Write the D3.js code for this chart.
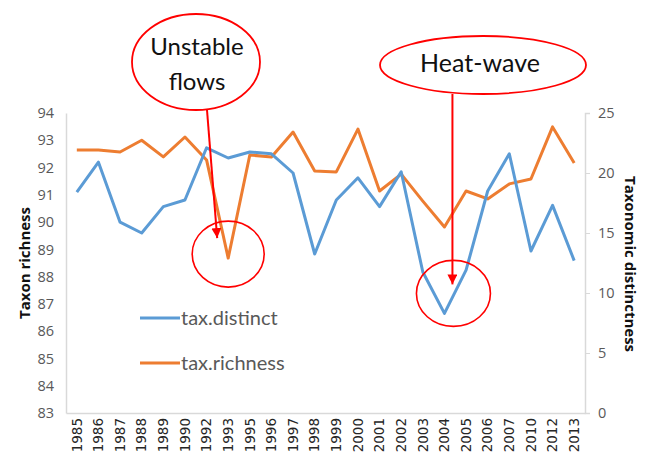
<!DOCTYPE html>
<html><head><meta charset="utf-8">
<script src="https://cdn.jsdelivr.net/npm/d3@7"></script>
<style>body{margin:0;background:#fff}svg{display:block}</style>
</head><body>
<svg id="c" width="649" height="455"></svg>
<script>
const years = ["1985","1986","1987","1988","1989","1990","1992","1993","1995","1996","1997","1998","1999","2000","2001","2002","2003","2004","2005","2006","2007","2010","2012","2013"];
// tax.distinct (right axis: Taxonomic distinctness)
const taxDistinct = [18.4,20.9,15.9,15.0,17.2,17.75,22.1,21.25,21.75,21.6,20.0,13.25,17.75,19.6,17.2,20.1,11.75,8.3,11.9,18.5,21.6,13.5,17.3,12.7];
// tax.richness (left axis: Taxon richness)
const taxRichness = [92.64,92.64,92.57,93.0,92.39,93.12,92.28,88.68,92.46,92.39,93.3,91.87,91.84,93.41,91.14,91.76,90.77,89.82,91.14,90.85,91.4,91.58,93.49,92.17];
const leftTicks = [83,84,85,86,87,88,89,90,91,92,93,94];
const rightTicks = [0,5,10,15,20,25];
const seriesNames = ["tax.distinct","tax.richness"];
const annotations = [{text:["Unstable","flows"], year:"1993"},{text:["Heat-wave"], year:"2004"}];

const svg = d3.select("#c");
const L=66, R=585, T=113, B=413;
const x = d3.scaleBand().domain(years).range([L,R]).padding(0);
const cx = d => x(d)+x.bandwidth()/2;
const yL = d3.scaleLinear().domain([83,94]).range([B,T]);
const yR = d3.scaleLinear().domain([0,25]).range([B,T]);
const grey="#d9d9d9", txt="#595959";

// left axis
const gl = svg.append("g").attr("transform",`translate(${L},0)`)
  .call(d3.axisLeft(yL).tickValues(leftTicks).tickSize(0).tickPadding(12));
gl.select(".domain").attr("stroke",grey).attr("stroke-width",1.5);
gl.selectAll("text").attr("fill",txt).style("font-family","'Open Sans',sans-serif").style("font-size","14.5px");

// right axis
const gr = svg.append("g").attr("transform",`translate(${R},0)`)
  .call(d3.axisRight(yR).tickValues(rightTicks).tickSize(5).tickPadding(8));
gr.select(".domain").attr("stroke",grey).attr("stroke-width",1.5);
gr.selectAll("line").attr("stroke",grey);
gr.selectAll("text").attr("fill",txt).style("font-family","'Open Sans',sans-serif").style("font-size","14.5px");

// bottom axis
const gb = svg.append("g").attr("transform",`translate(0,${B})`)
  .call(d3.axisBottom(x).tickSize(0).tickPadding(0));
gb.select(".domain").attr("stroke",grey).attr("stroke-width",1.5);
gb.selectAll("text")
  .attr("transform","rotate(-90)")
  .attr("text-anchor","end").attr("dx","-5px").attr("dy","0.35em").attr("y",0).attr("x",0)
  .attr("fill","#262626")
  .style("font-family","'DejaVu Sans',sans-serif").style("font-size","13.5px");

// axis titles
svg.append("text").attr("transform","translate(30,263) rotate(-90)").attr("text-anchor","middle")
  .style("font-family","'Open Sans',sans-serif").style("font-weight","bold").style("font-size","15px").attr("fill","#111")
  .text("Taxon richness");
svg.append("text").attr("transform","translate(625,264) rotate(90)").attr("text-anchor","middle")
  .style("font-family","'Open Sans',sans-serif").style("font-weight","bold").style("font-size","15px").attr("fill","#111")
  .text("Taxonomic distinctness");

// lines
const colors = {"tax.distinct":"#5b9bd5","tax.richness":"#ed7d31"};
const lineR = d3.line().x((d,i)=>cx(years[i])).y(d=>yL(d));
const lineD = d3.line().x((d,i)=>cx(years[i])).y(d=>yR(d));
svg.append("path").datum(taxRichness).attr("d",lineR).attr("fill","none")
  .attr("stroke",colors["tax.richness"]).attr("stroke-width",3).attr("stroke-linejoin","round");
svg.append("path").datum(taxDistinct).attr("d",lineD).attr("fill","none")
  .attr("stroke",colors["tax.distinct"]).attr("stroke-width",3).attr("stroke-linejoin","round");

// legend
seriesNames.forEach((n,i)=>{
  const ly = 318 + i*45;
  svg.append("line").attr("x1",140).attr("x2",180).attr("y1",ly).attr("y2",ly)
    .attr("stroke",colors[n]).attr("stroke-width",3);
  svg.append("text").attr("x",181).attr("y",ly+7).attr("fill",txt)
    .style("font-family","Lato,sans-serif").style("font-size","20px").text(n);
});

// annotations
const red="#ff0000";
svg.append("defs").append("marker").attr("id","ah").attr("viewBox","0 0 10 10")
  .attr("refX",10).attr("refY",5).attr("markerWidth",5).attr("markerHeight",5).attr("orient","auto-start-reverse")
  .append("path").attr("d","M0,0L10,5L0,10z").attr("fill",red);

// Unstable flows
const a1x = cx(annotations[0].year), a1y = yL(taxRichness[years.indexOf(annotations[0].year)]);
svg.append("ellipse").attr("cx",196).attr("cy",62).attr("rx",64).attr("ry",48)
  .attr("fill","none").attr("stroke",red).attr("stroke-width",1.8);
svg.append("text").attr("x",197).attr("y",55).attr("text-anchor","middle")
  .style("font-family","Lato,sans-serif").style("font-size","24px").attr("fill","#111").text(annotations[0].text[0]);
svg.append("text").attr("x",197).attr("y",90).attr("text-anchor","middle")
  .style("font-family","Lato,sans-serif").style("font-size","24px").attr("fill","#111").text(annotations[0].text[1]);
svg.append("line").attr("x1",207).attr("y1",110).attr("x2",a1x-11).attr("y2",a1y-20)
  .attr("stroke",red).attr("stroke-width",2).attr("marker-end","url(#ah)");
svg.append("ellipse").attr("cx",a1x).attr("cy",a1y-4).attr("rx",36).attr("ry",33)
  .attr("fill","none").attr("stroke",red).attr("stroke-width",1.6);

// Heat-wave
const a2x = cx(annotations[1].year), a2y = yR(taxDistinct[years.indexOf(annotations[1].year)]);
svg.append("ellipse").attr("cx",483).attr("cy",65).attr("rx",103).attr("ry",29)
  .attr("fill","none").attr("stroke",red).attr("stroke-width",1.8);
svg.append("text").attr("x",480).attr("y",72).attr("text-anchor","middle")
  .style("font-family","Lato,sans-serif").style("font-size","25px").attr("fill","#111").text(annotations[1].text[0]);
svg.append("line").attr("x1",a2x+8).attr("y1",94).attr("x2",a2x+8).attr("y2",a2y-29)
  .attr("stroke",red).attr("stroke-width",2).attr("marker-end","url(#ah)");
svg.append("ellipse").attr("cx",a2x+9).attr("cy",a2y-20).attr("rx",37).attr("ry",33)
  .attr("fill","none").attr("stroke",red).attr("stroke-width",1.6);
</script>
</body></html>
